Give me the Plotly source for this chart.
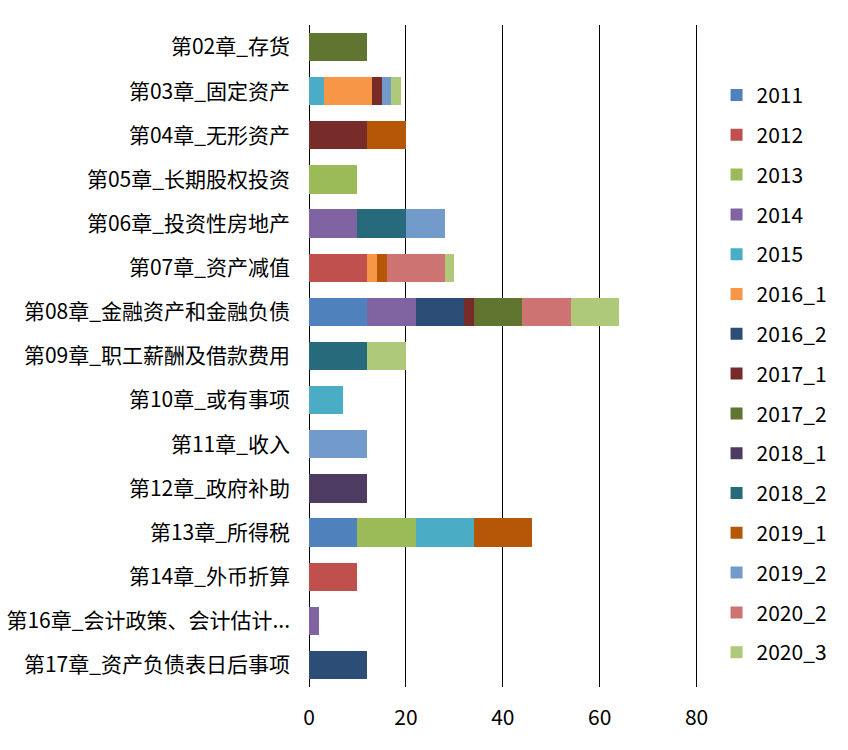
import plotly.graph_objects as go

categories = [
    "第02章_存货", "第03章_固定资产", "第04章_无形资产", "第05章_长期股权投资",
    "第06章_投资性房地产", "第07章_资产减值", "第08章_金融资产和金融负债",
    "第09章_职工薪酬及借款费用", "第10章_或有事项", "第11章_收入", "第12章_政府补助",
    "第13章_所得税", "第14章_外币折算", "第16章_会计政策、会计估计...", "第17章_资产负债表日后事项",
]

series_names = ["2011", "2012", "2013", "2014", "2015", "2016_1", "2016_2", "2017_1",
                "2017_2", "2018_1", "2018_2", "2019_1", "2019_2", "2020_2", "2020_3"]

#            02  03  04  05  06  07  08  09  10  11  12  13  14  16  17
s2011   = [0, 0, 0, 0, 0, 0, 12, 0, 0, 0, 0, 10, 0, 0, 0]
s2012   = [0, 0, 0, 0, 0, 12, 0, 0, 0, 0, 0, 0, 10, 0, 0]
s2013   = [0, 0, 0, 10, 0, 0, 0, 0, 0, 0, 0, 12, 0, 0, 0]
s2014   = [0, 0, 0, 0, 10, 0, 10, 0, 0, 0, 0, 0, 0, 2, 0]
s2015   = [0, 3, 0, 0, 0, 0, 0, 0, 7, 0, 0, 12, 0, 0, 0]
s2016_1 = [0, 10, 0, 0, 0, 2, 0, 0, 0, 0, 0, 0, 0, 0, 0]
s2016_2 = [0, 0, 0, 0, 0, 0, 10, 0, 0, 0, 0, 0, 0, 0, 12]
s2017_1 = [0, 2, 12, 0, 0, 0, 2, 0, 0, 0, 0, 0, 0, 0, 0]
s2017_2 = [12, 0, 0, 0, 0, 0, 10, 0, 0, 0, 0, 0, 0, 0, 0]
s2018_1 = [0, 0, 0, 0, 0, 0, 0, 0, 0, 0, 12, 0, 0, 0, 0]
s2018_2 = [0, 0, 0, 0, 10, 0, 0, 12, 0, 0, 0, 0, 0, 0, 0]
s2019_1 = [0, 0, 8, 0, 0, 2, 0, 0, 0, 0, 0, 12, 0, 0, 0]
s2019_2 = [0, 2, 0, 0, 8, 0, 0, 0, 0, 12, 0, 0, 0, 0, 0]
s2020_2 = [0, 0, 0, 0, 0, 12, 10, 0, 0, 0, 0, 0, 0, 0, 0]
s2020_3 = [0, 2, 0, 0, 0, 2, 10, 8, 0, 0, 0, 0, 0, 0, 0]

series_values = [s2011, s2012, s2013, s2014, s2015, s2016_1, s2016_2, s2017_1,
                 s2017_2, s2018_1, s2018_2, s2019_1, s2019_2, s2020_2, s2020_3]

colors = ["#4F81BD", "#C0504D", "#9BBB59", "#8064A2", "#4BACC6", "#F79646", "#2C4D75",
          "#772C2A", "#5F7530", "#4D3B62", "#276A7C", "#B65708", "#729ACA", "#CD7371",
          "#AFC97A"]

x_ticks = [0, 20, 40, 60, 80]

FONT = "Noto Sans CJK SC, Microsoft YaHei, sans-serif"
FS = 21

fig = go.Figure()
for name, vals, col in zip(series_names, series_values, colors):
    fig.add_trace(go.Bar(
        y=categories, x=vals, name=name, orientation="h",
        marker=dict(color=col, line=dict(width=0)),
        legendgroup=name,
    ))

fig.update_layout(
    barmode="stack",
    bargap=0.36,
    width=848, height=750,
    margin=dict(l=309, r=149, t=25, b=63, autoexpand=False),
    paper_bgcolor="white", plot_bgcolor="white",
    font=dict(family=FONT, size=FS, color="black"),
    showlegend=True,
    legend=dict(
        x=1.045, xanchor="left", y=0.473, yanchor="middle",
        traceorder="grouped", tracegroupgap=9.5,
        font=dict(family=FONT, size=FS, color="black"),
        itemwidth=30,
    ),
    xaxis=dict(
        range=[0, 80.5], tickvals=x_ticks, ticktext=[str(t) for t in x_ticks],
        showgrid=True, gridcolor="black", gridwidth=1,
        zeroline=True, zerolinecolor="black", zerolinewidth=1,
        showline=False, ticks="", ticklabelstandoff=16,
        tickfont=dict(family=FONT, size=FS, color="black"),
    ),
    yaxis=dict(
        categoryorder="array", categoryarray=categories, autorange="reversed",
        showgrid=False, zeroline=False, showline=False, ticks="",
        ticklabelstandoff=18,
        tickfont=dict(family=FONT, size=FS, color="black"),
    ),
)

fig.write_html("out.html", config={"displayModeBar": False},
               post_script="document.body.style.margin='0';")
